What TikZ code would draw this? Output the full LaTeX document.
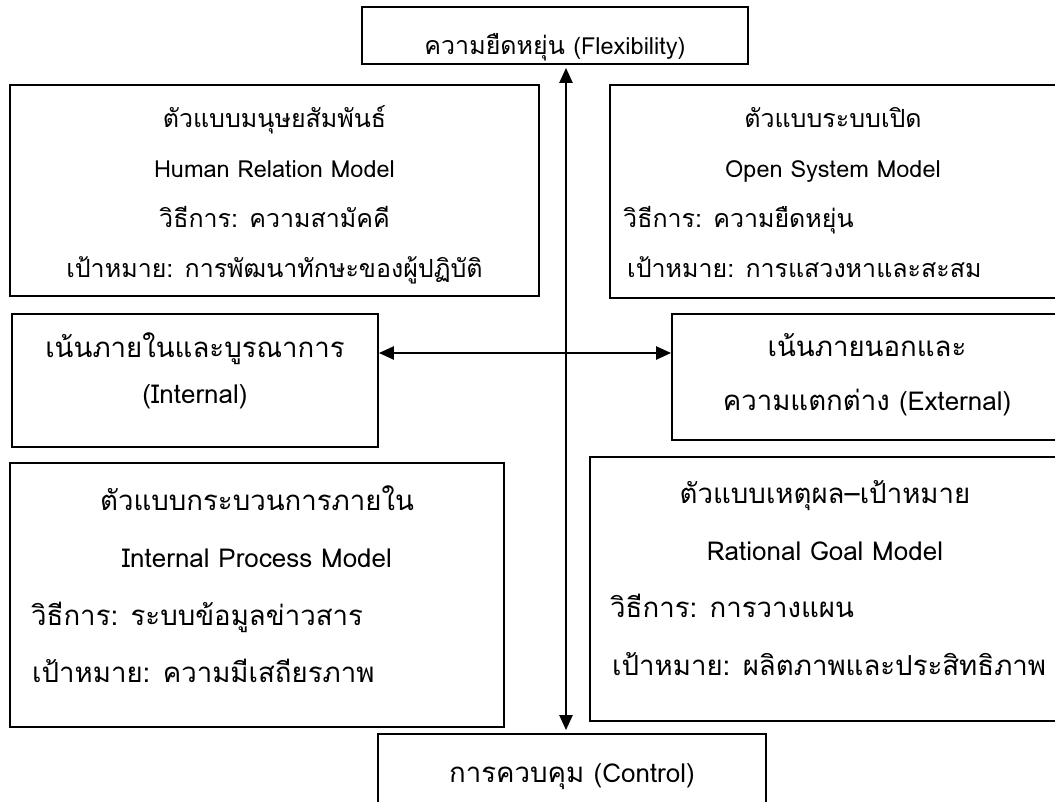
\documentclass[tikz,border=0pt]{standalone}
\usepackage{fontspec}
\setmainfont[Script=Thai]{Loma}
\usetikzlibrary{arrows.meta,calc}
\newcommand\TA{\fontsize{25}{29}\selectfont}
\newcommand\LA{\fontsize{23.5}{27}\selectfont}
\newcommand\TB{\fontsize{27.6}{32}\selectfont}
\newcommand\LB{\fontsize{26}{30}\selectfont}
\begin{document}
\begin{tikzpicture}[x=1pt,y=-1pt,
  boxst/.style={draw=black,line width=1.8pt,inner sep=0pt,minimum width=#1},
  txt/.style={inner sep=0pt},
  both/.style={line width=2.4pt,{Triangle[length=15pt,width=13pt]}-{Triangle[length=15pt,width=13pt]}}
]
\useasboundingbox (0,0) rectangle (1055,802);
% boxes
\node[boxst=386, minimum height=57] (top) at (555,35.5) {};
\node[boxst=529, minimum height=211] (hr) at (274.5,190.5) {};
\node[boxst=450, minimum height=213] (os) at (835,191.5) {};
\node[boxst=366, minimum height=133] (inn) at (195,380.5) {};
\node[boxst=388, minimum height=126] (ext) at (866,377) {};
\node[boxst=494, minimum height=264] (ip) at (257,595) {};
\node[boxst=470, minimum height=264] (rg) at (825,589) {};
\node[boxst=388, minimum height=81] (bot) at (572,774.5) {};
% texts
\node[txt,anchor=base] (t1) at (555,55) {\TA ความยืดหยุ่น {\LA(Flexibility)}};
\node[txt,anchor=base] (hr1) at (274.5,128) {\TA ตัวแบบมนุษยสัมพันธ์};
\node[txt,anchor=base] (hr2) at (274.5,178) {\LA Human Relation Model};
\node[txt,anchor=base] (hr3) at (274.5,228) {\TA วิธีการ: ความสามัคคี};
\node[txt,anchor=base] (hr4) at (274.5,278) {\TA เป้าหมาย: การพัฒนาทักษะของผู้ปฏิบัติ};
\node[txt,anchor=base] (os1) at (833,128) {\TA ตัวแบบระบบเปิด};
\node[txt,anchor=base] (os2) at (833,178) {\LA Open System Model};
\node[txt,anchor=base west] (os3) at (623,228) {\TA วิธีการ: ความยืดหยุ่น};
\node[txt,anchor=base west] (os4) at (627,278) {\TA เป้าหมาย: การแสวงหาและสะสม};
\node[txt,anchor=base] (in1) at (195,358) {\TB เน้นภายในและบูรณาการ};
\node[txt,anchor=base] (in2) at (195,403) {\LB (Internal)};
\node[txt,anchor=base] (ex1) at (867,356) {\TB เน้นภายนอกและ};
\node[txt,anchor=base] (ex2) at (867,410) {\TB ความแตกต่าง {\LB(External)}};
\node[txt,anchor=base] (ip1) at (257,510) {\TB ตัวแบบกระบวนการภายใน};
\node[txt,anchor=base] (ip2) at (257,567) {\LB Internal Process Model};
\node[txt,anchor=base west] (ip3) at (31,625) {\TB วิธีการ: ระบบข้อมูลข่าวสาร};
\node[txt,anchor=base west] (ip4) at (32,682) {\TB เป้าหมาย: ความมีเสถียรภาพ};
\node[txt,anchor=base] (rg1) at (825,503) {\TB ตัวแบบเหตุผล–เป้าหมาย};
\node[txt,anchor=base] (rg2) at (825,560) {\LB Rational Goal Model};
\node[txt,anchor=base west] (rg3) at (610,617) {\TB วิธีการ: การวางแผน};
\node[txt,anchor=base west] (rg4) at (612,675) {\TB เป้าหมาย: ผลิตภาพและประสิทธิภาพ};
\node[txt,anchor=base] (b1) at (572,782) {\TB การควบคุม {\LB(Control)}};
% arrows
\coordinate (vx) at (566,0);
\coordinate (hy) at (0,353);
\draw[both,shorten <=3pt,shorten >=3pt] (top.south -| vx) -- (bot.north -| vx);
\draw[both] (inn.east |- hy) -- (ext.west |- hy);
\end{tikzpicture}
\end{document}
